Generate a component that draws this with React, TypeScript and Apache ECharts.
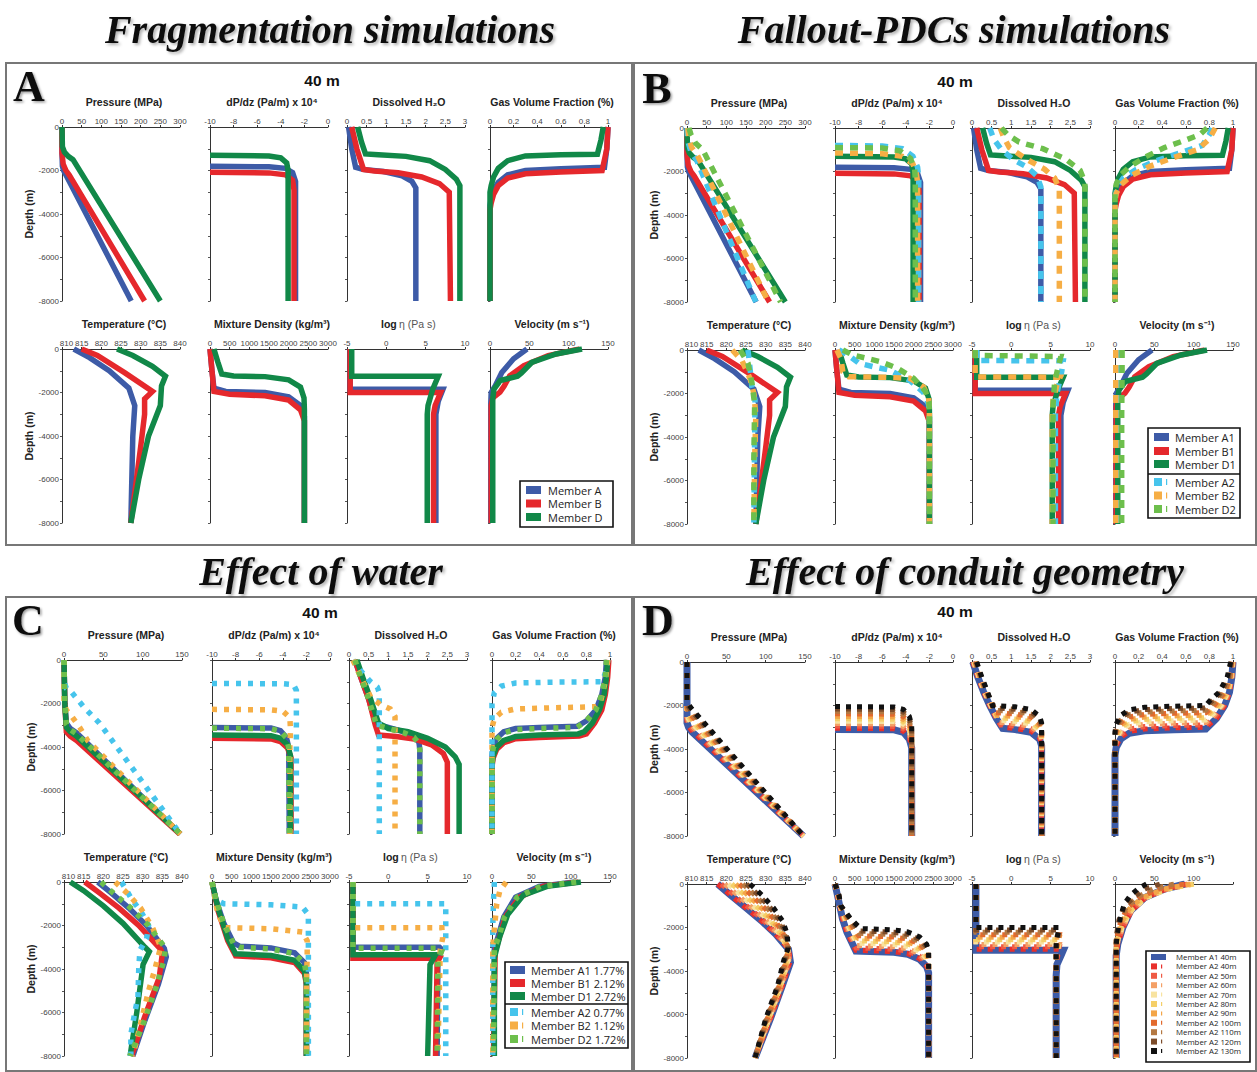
import React, { useEffect, useRef } from 'react';
import * as echarts from 'echarts';

// ================= Panel A (Fragmentation) & B solid members =================
const pressure_A1 = [[0,0],[0,-1200],[1,-1800],[4,-2000],[10,-2200],[176,-8000]];
const pressure_B1 = [[0,0],[0,-1200],[3,-1700],[10,-2000],[18,-2200],[210,-8000]];
const pressure_D1 = [[0,0],[1,-900],[6,-1150],[16,-1350],[28,-1500],[250,-8000]];
const dpdz_A1 = [[-10,-1800],[-5,-1830],[-3.6,-1900],[-3.0,-2100],[-2.75,-2500],[-2.75,-8000]];
const dpdz_B1 = [[-10,-2080],[-5,-2110],[-3.6,-2200],[-3.0,-2450],[-2.88,-2900],[-2.88,-8000]];
const dpdz_D1 = [[-10,-1300],[-5,-1330],[-4,-1420],[-3.5,-1650],[-3.38,-2000],[-3.38,-8000]];
const h2o_A1 = [[0.04,0],[0.12,-1000],[0.22,-1850],[0.4,-1950],[0.93,-2050],[1.4,-2250],[1.65,-2500],[1.75,-2800],[1.75,-8000]];
const h2o_B1 = [[0.12,0],[0.25,-1000],[0.42,-1950],[0.7,-2020],[1.3,-2100],[1.9,-2300],[2.35,-2600],[2.6,-3000],[2.63,-8000]];
const h2o_D1 = [[0.27,0],[0.37,-700],[0.47,-1240],[0.8,-1280],[1.5,-1350],[2.1,-1550],[2.5,-1950],[2.78,-2400],[2.87,-2700],[2.87,-8000]];
const gvf_A1 = [[1,0],[0.99,-1000],[0.97,-1850],[0.6,-1920],[0.3,-2000],[0.15,-2200],[0.07,-2550],[0.03,-2900],[0.01,-3300],[0,-3600],[0,-8000]];
const gvf_B1 = [[1,0],[0.99,-1000],[0.95,-2000],[0.6,-2070],[0.3,-2150],[0.15,-2350],[0.07,-2700],[0.03,-3100],[0.01,-3500],[0,-3800],[0,-8000]];
const gvf_D1 = [[0.96,0],[0.94,-600],[0.91,-1250],[0.6,-1280],[0.3,-1330],[0.15,-1550],[0.07,-1900],[0.03,-2300],[0.01,-2700],[0,-3000],[0,-8000]];
const temp_A1 = [[813,0],[817,-400],[822,-1000],[827,-1800],[828.5,-2600],[828,-4000],[827.5,-8000]];
const temp_B1 = [[815,0],[819,-300],[826,-1100],[833,-1950],[831,-2300],[831,-3000],[830,-4500],[827.5,-8000]];
const temp_D1 = [[824,0],[828,-300],[833,-800],[836.3,-1250],[835.3,-1700],[835,-2600],[832,-4000],[829.5,-6000],[827.5,-8000]];
const rho_A1 = [[0,0],[50,-1000],[100,-1800],[400,-1950],[1400,-2000],[2000,-2200],[2300,-2600],[2400,-3100],[2400,-8000]];
const rho_B1 = [[0,0],[50,-1000],[100,-1950],[500,-2080],[1400,-2150],[2000,-2350],[2300,-2800],[2400,-3300],[2400,-8000]];
const rho_D1 = [[100,0],[200,-600],[300,-1150],[600,-1240],[1400,-1270],[2000,-1420],[2300,-1750],[2390,-2250],[2400,-2800],[2400,-8000]];
const visc_A1 = [[-4.6,0],[-4.6,-1850],[7.2,-1850],[6.6,-2400],[6.3,-3000],[6.3,-8000]];
const visc_B1 = [[-4.6,0],[-4.6,-2000],[6.9,-2000],[6.2,-2600],[6.0,-3000],[6.0,-8000]];
const visc_D1 = [[-4.4,0],[-4.4,-1250],[6.6,-1250],[5.9,-1850],[5.3,-2600],[5.2,-3000],[5.2,-8000]];
const vel_A1 = [[47,0],[30,-450],[15,-1080],[6.6,-1700],[1.5,-2000],[1,-2500],[1,-8000]];
const vel_B1 = [[114,0],[74,-300],[43,-770],[25,-1240],[18,-1700],[12.7,-1980],[3.5,-2250],[1.5,-2600],[1.5,-8000]];
const vel_D1 = [[117,0],[84,-230],[53,-620],[40,-1100],[35,-1250],[13,-1450],[5,-1850],[3.5,-2300],[3.5,-8000]];

// ================= Panel B dashed members (A2, B2, D2) =================
const pressure_A2 = [[0,0],[2,-600],[10,-1100],[25,-1500],[175,-8000]];
const pressure_B2 = [[2,0],[5,-500],[12,-900],[25,-1200],[207,-8000]];
const pressure_D2 = [[5,0],[10,-300],[22,-700],[40,-1000],[238,-8000]];
const dpdz_A2 = [[-10,-800],[-6,-830],[-4.3,-950],[-3.4,-1300],[-3.0,-1800],[-2.9,-2300],[-2.9,-8000]];
const dpdz_B2 = [[-10,-1150],[-6,-1180],[-4.3,-1300],[-3.4,-1650],[-3.1,-2100],[-3.0,-2500],[-3.0,-8000]];
const dpdz_D2 = [[-10,-900],[-6,-920],[-4.5,-1050],[-3.6,-1400],[-3.25,-1900],[-3.2,-2300],[-3.2,-8000]];
const h2o_A2 = [[0.45,0],[0.55,-500],[0.75,-1000],[1.05,-1450],[1.4,-1800],[1.65,-2200],[1.75,-2700],[1.75,-8000]];
const h2o_B2 = [[0.72,0],[0.8,-400],[0.95,-900],[1.4,-1450],[1.85,-1900],[2.1,-2300],[2.22,-2800],[2.22,-8000]];
const h2o_D2 = [[0.75,0],[0.9,-300],[1.2,-650],[1.8,-950],[2.4,-1450],[2.75,-1950],[2.87,-2500],[2.87,-8000]];
const gvf_A2 = [[0.82,0],[0.8,-300],[0.74,-800],[0.55,-1150],[0.35,-1500],[0.18,-1900],[0.07,-2300],[0.02,-2700],[0,-3200],[0,-8000]];
const gvf_B2 = [[0.85,0],[0.8,-500],[0.7,-1000],[0.5,-1350],[0.3,-1750],[0.15,-2150],[0.05,-2600],[0.01,-3000],[0,-3400],[0,-8000]];
const gvf_D2 = [[0.78,0],[0.72,-300],[0.6,-550],[0.42,-900],[0.25,-1350],[0.12,-1800],[0.04,-2200],[0.01,-2600],[0,-3000],[0,-8000]];
const temp_A2 = [[825.5,0],[826,-800],[826.5,-1700],[827.3,-2300],[827.2,-4000],[827,-8000]];
const temp_B2 = [[821.5,0],[824,-500],[826,-1300],[827,-2000],[827.5,-3000],[827.2,-5000],[827,-8000]];
const temp_D2 = [[823.5,0],[825.5,-600],[826.5,-1500],[827.2,-2500],[827,-5000],[827,-8000]];
const rho_A2 = [[100,0],[350,-250],[600,-600],[1000,-780],[1400,-930],[1900,-1400],[2250,-1950],[2380,-2500],[2400,-3000],[2400,-8000]];
const rho_B2 = [[50,0],[150,-400],[200,-1000],[350,-1230],[1200,-1250],[1900,-1300],[2250,-1700],[2380,-2200],[2400,-2800],[2400,-8000]];
const rho_D2 = [[200,0],[450,-230],[800,-380],[1160,-540],[1600,-850],[2000,-1300],[2300,-1900],[2390,-2400],[2400,-3000],[2400,-8000]];
const visc_A2 = [[-4.4,0],[-4.4,-480],[0,-490],[6.6,-500],[6.4,-1000],[5.8,-2000],[5.6,-3000],[5.6,-8000]];
const visc_B2 = [[-4.6,0],[-4.6,-1240],[0,-1240],[6.2,-1250],[5.8,-1600],[5.3,-2300],[5.2,-3000],[5.2,-8000]];
const visc_D2 = [[-4.6,0],[-4.6,-250],[0,-270],[6.3,-300],[6.0,-700],[5.5,-1500],[5.3,-2500],[5.3,-8000]];
const vel_A2 = [[5,0],[4,-1000],[3,-2000],[3,-8000]];
const vel_B2 = [[1,0],[1,-8000]];
const vel_D2 = [[9,0],[9,-1000],[8.5,-3000],[8.5,-8000]];

// ================= Panel C (Effect of water) =================
const w_pressure_A1 = [[0,0],[1,-2000],[3,-2900],[8,-3150],[16,-3350],[148,-8000]];
const w_pressure_B1 = [[0,0],[1,-2000],[3,-3300],[8,-3500],[16,-3700],[147,-8000]];
const w_pressure_D1 = [[0,0],[1,-2000],[3,-3100],[8,-3300],[16,-3500],[148,-8000]];
const w_pressure_A2 = [[0,0],[0,-1000],[3,-1300],[10,-1500],[26,-2200],[45,-2900],[148,-8000]];
const w_pressure_B2 = [[0,0],[0,-2000],[3,-2300],[10,-2600],[20,-3100],[30,-3700],[148,-8000]];
const w_pressure_D2 = [[0,0],[1,-2000],[3,-2950],[8,-3200],[16,-3400],[148,-8000]];
const w_dpdz_A1 = [[-10,-3100],[-5,-3130],[-4.2,-3250],[-3.7,-3550],[-3.5,-4000],[-3.45,-8000]];
const w_dpdz_B1 = [[-10,-3600],[-5,-3630],[-4.2,-3750],[-3.6,-4050],[-3.3,-4500],[-3.3,-8000]];
const w_dpdz_D1 = [[-10,-3450],[-5,-3480],[-4.2,-3600],[-3.6,-3900],[-3.35,-4400],[-3.35,-8000]];
const w_dpdz_A2 = [[-10,-1080],[-4,-1090],[-3.1,-1130],[-2.85,-1400],[-2.85,-8000]];
const w_dpdz_B2 = [[-10,-2270],[-5,-2290],[-4,-2350],[-3.4,-2650],[-3.35,-3200],[-3.4,-4000],[-3.4,-8000]];
const w_dpdz_D2 = [[-10,-3130],[-5,-3160],[-4.2,-3280],[-3.7,-3580],[-3.5,-4030],[-3.45,-8000]];
const w_h2o_A1 = [[0.15,0],[0.3,-800],[0.5,-1800],[0.7,-2950],[1.0,-3100],[1.4,-3300],[1.65,-3500],[1.78,-3800],[1.8,-4100],[1.8,-8000]];
const w_h2o_B1 = [[0.15,0],[0.3,-800],[0.5,-1800],[0.67,-3000],[0.75,-3450],[1.2,-3520],[1.7,-3650],[2.1,-3900],[2.4,-4300],[2.5,-4700],[2.5,-8000]];
const w_h2o_D1 = [[0.2,0],[0.35,-800],[0.55,-1800],[0.75,-2900],[1.0,-3150],[1.5,-3300],[2.0,-3600],[2.45,-4000],[2.7,-4450],[2.8,-4800],[2.8,-8000]];
const w_h2o_A2 = [[0.1,0],[0.3,-500],[0.55,-1000],[0.72,-1250],[0.77,-1500],[0.77,-8000]];
const w_h2o_B2 = [[0.1,0],[0.3,-800],[0.55,-1700],[0.8,-2050],[1.05,-2250],[1.17,-2600],[1.17,-8000]];
const w_h2o_D2 = [[0.15,0],[0.3,-800],[0.5,-1800],[0.7,-3000],[1.0,-3150],[1.4,-3350],[1.65,-3550],[1.78,-3850],[1.8,-4150],[1.8,-8000]];
const w_gvf_A1 = [[0.97,0],[0.96,-800],[0.93,-1600],[0.88,-2300],[0.8,-2800],[0.72,-3050],[0.4,-3100],[0.2,-3150],[0.1,-3300],[0.04,-3600],[0.01,-4000],[0,-4400],[0,-8000]];
const w_gvf_B1 = [[0.99,0],[0.98,-800],[0.96,-1600],[0.93,-2300],[0.87,-2900],[0.8,-3400],[0.74,-3500],[0.4,-3560],[0.2,-3620],[0.1,-3800],[0.04,-4100],[0.01,-4500],[0,-4900],[0,-8000]];
const w_gvf_D1 = [[0.98,0],[0.97,-800],[0.95,-1600],[0.91,-2300],[0.85,-2900],[0.78,-3300],[0.73,-3400],[0.4,-3450],[0.2,-3520],[0.1,-3700],[0.04,-4000],[0.01,-4400],[0,-4800],[0,-8000]];
const w_gvf_A2 = [[0.98,0],[0.97,-500],[0.93,-1000],[0.5,-1020],[0.2,-1060],[0.08,-1200],[0.02,-1500],[0,-2000],[0,-8000]];
const w_gvf_B2 = [[0.98,0],[0.96,-1000],[0.92,-1900],[0.88,-2150],[0.5,-2200],[0.2,-2250],[0.08,-2400],[0.02,-2700],[0,-3100],[0,-8000]];
const w_gvf_D2 = [[0.97,0],[0.96,-800],[0.93,-1600],[0.88,-2300],[0.8,-2800],[0.72,-3100],[0.4,-3150],[0.2,-3200],[0.1,-3350],[0.04,-3650],[0.01,-4050],[0,-4450],[0,-8000]];
const w_temp_A1 = [[818.6,0],[822,-500],[826.5,-1200],[831,-2000],[835.5,-3050],[836,-3450],[834,-4700],[830.5,-6400],[827.5,-8000]];
const w_temp_B1 = [[815.3,0],[819,-500],[824,-1200],[829,-2000],[834.6,-3100],[835,-3300],[834.2,-4400],[830.5,-6200],[827.2,-8000]];
const w_temp_D1 = [[811.6,0],[815,-400],[820,-1100],[825,-1900],[830.6,-3000],[831.7,-3200],[830.1,-3800],[828.5,-6000],[826.8,-8000]];
const w_temp_A2 = [[824.6,0],[827.2,-780],[829.7,-1400],[831.5,-2000],[831,-2600],[829.3,-3140],[829,-4000],[828.8,-5300],[828,-6000],[827,-7000],[827,-8000]];
const w_temp_B2 = [[823,0],[826,-500],[829.5,-1200],[832.5,-2100],[834.6,-2980],[833,-4080],[831.5,-5000],[829.5,-6500],[827.5,-8000]];
const w_temp_D2 = [[819.4,0],[822.5,-500],[827,-1200],[831.5,-2000],[835.8,-3050],[835.4,-3600],[833.5,-4800],[830.2,-6500],[826.8,-8000]];
const w_rho_A1 = [[0,0],[100,-800],[300,-1900],[550,-2800],[700,-2950],[1500,-3030],[2100,-3250],[2350,-3700],[2400,-4200],[2400,-8000]];
const w_rho_B1 = [[0,0],[150,-1300],[400,-2700],[600,-3400],[1500,-3480],[2100,-3700],[2350,-4200],[2400,-4700],[2400,-8000]];
const w_rho_D1 = [[0,0],[150,-1200],[400,-2600],[600,-3300],[1500,-3380],[2100,-3600],[2350,-4100],[2400,-4600],[2400,-8000]];
const w_rho_A2 = [[0,0],[80,-800],[300,-1000],[1500,-1050],[2300,-1150],[2450,-1500],[2450,-8000]];
const w_rho_B2 = [[0,0],[150,-1500],[350,-2100],[1500,-2150],[2300,-2300],[2420,-2700],[2420,-3500],[2400,-4500],[2400,-8000]];
const w_rho_D2 = [[0,0],[100,-800],[300,-1900],[550,-2850],[700,-3000],[1500,-3080],[2100,-3300],[2350,-3750],[2400,-4250],[2400,-8000]];
const w_visc_A1 = [[-4.5,0],[-4.5,-3000],[6.5,-3000],[6.8,-3100],[6.3,-3600],[6.2,-8000]];
const w_visc_B1 = [[-4.5,0],[-4.5,-3500],[6.5,-3500],[6.2,-3700],[6.0,-8000]];
const w_visc_D1 = [[-4.5,0],[-4.5,-3350],[6.0,-3350],[5.3,-3800],[5.0,-8000]];
const w_visc_A2 = [[-4.5,0],[-4.5,-1000],[7.3,-1000],[7.3,-8000]];
const w_visc_B2 = [[-4.5,0],[-4.5,-2100],[6.8,-2100],[6.9,-2600],[6.6,-3100],[6.3,-8000]];
const w_visc_D2 = [[-4.5,0],[-4.5,-3050],[6.5,-3050],[6.8,-3150],[6.3,-3650],[6.2,-8000]];
const w_vel_A1 = [[105,0],[60,-200],[30,-700],[15,-1600],[7,-2600],[3,-3000],[2,-8000]];
const w_vel_B1 = [[110,0],[65,-200],[35,-700],[17,-1600],[9,-2600],[4,-3200],[2,-8000]];
const w_vel_D1 = [[113,0],[70,-200],[40,-600],[20,-1500],[10,-2500],[5,-3200],[3,-3500],[3,-8000]];
const w_vel_A2 = [[3,0],[2,-800],[1,-2000],[1,-8000]];
const w_vel_B2 = [[18,0],[10,-400],[6,-1000],[4,-1800],[2,-2500],[1,-3000],[1,-8000]];
const w_vel_D2 = [[107,0],[62,-200],[32,-700],[16,-1600],[8,-2600],[3,-3000],[2,-8000]];

// ================= Panel D (Effect of conduit geometry) =================
// index 0: Member A1 40m (solid); 1..10: Member A2 40m ... 130m (dashed)
const GEOM_LABELS = ['Member A1 40m','Member A2 40m','Member A2 50m','Member A2 60m','Member A2 70m','Member A2 80m','Member A2 90m','Member A2 100m','Member A2 110m','Member A2 120m','Member A2 130m'];
const g_pressure = [
  [[0,0],[0,-2800],[2,-3000],[6,-3200],[148,-8000]],
  [[0,0],[0,-2750],[2,-2950],[6,-3150],[148,-8000]],
  [[0,0],[0,-2640],[2,-2840],[6,-3040],[148,-8000]],
  [[0,0],[0,-2530],[2,-2730],[6,-2930],[148,-8000]],
  [[0,0],[0,-2420],[2,-2620],[6,-2820],[148,-8000]],
  [[0,0],[0,-2310],[2,-2510],[6,-2710],[148,-8000]],
  [[0,0],[0,-2190],[2,-2390],[6,-2590],[148,-8000]],
  [[0,0],[0,-2080],[2,-2280],[6,-2480],[148,-8000]],
  [[0,0],[0,-1970],[2,-2170],[6,-2370],[148,-8000]],
  [[0,0],[0,-1860],[2,-2060],[6,-2260],[148,-8000]],
  [[0,0],[0,-1750],[2,-1950],[6,-2150],[148,-8000]],
];
const g_dpdz = [
  [[-10,-3100],[-5,-3120],[-4.2,-3230],[-3.7,-3550],[-3.5,-3950],[-3.5,-8000]],
  [[-10,-3050],[-5,-3070],[-4.2,-3180],[-3.7,-3500],[-3.5,-3900],[-3.5,-8000]],
  [[-10,-2940],[-5,-2960],[-4.2,-3070],[-3.7,-3390],[-3.5,-3790],[-3.5,-8000]],
  [[-10,-2830],[-5,-2850],[-4.2,-2960],[-3.7,-3280],[-3.5,-3680],[-3.5,-8000]],
  [[-10,-2720],[-5,-2740],[-4.2,-2850],[-3.7,-3170],[-3.5,-3570],[-3.5,-8000]],
  [[-10,-2610],[-5,-2630],[-4.2,-2740],[-3.7,-3060],[-3.5,-3460],[-3.5,-8000]],
  [[-10,-2500],[-5,-2520],[-4.2,-2630],[-3.7,-2950],[-3.5,-3350],[-3.5,-8000]],
  [[-10,-2380],[-5,-2400],[-4.2,-2510],[-3.7,-2830],[-3.5,-3230],[-3.5,-8000]],
  [[-10,-2270],[-5,-2290],[-4.2,-2400],[-3.7,-2720],[-3.5,-3120],[-3.5,-8000]],
  [[-10,-2160],[-5,-2180],[-4.2,-2290],[-3.7,-2610],[-3.5,-3010],[-3.5,-8000]],
  [[-10,-2050],[-5,-2070],[-4.2,-2180],[-3.7,-2500],[-3.5,-2900],[-3.5,-8000]],
];
const g_h2o = [
  [[0.02,0],[0.15,-700],[0.3,-1400],[0.45,-2000],[0.62,-2600],[0.78,-3050],[1.1,-3110],[1.5,-3230],[1.72,-3550],[1.77,-3850],[1.77,-8000]],
  [[0.02,0],[0.15,-700],[0.3,-1400],[0.45,-2000],[0.62,-2600],[0.77,-3000],[1.1,-3060],[1.5,-3180],[1.72,-3500],[1.77,-3800],[1.77,-8000]],
  [[0.03,0],[0.16,-700],[0.31,-1400],[0.46,-2000],[0.63,-2600],[0.73,-2890],[1.1,-2950],[1.5,-3070],[1.72,-3390],[1.77,-3690],[1.77,-8000]],
  [[0.04,0],[0.17,-700],[0.32,-1400],[0.47,-2000],[0.64,-2600],[0.7,-2780],[1.1,-2840],[1.5,-2960],[1.72,-3280],[1.77,-3580],[1.77,-8000]],
  [[0.05,0],[0.18,-700],[0.33,-1400],[0.48,-2000],[0.66,-2600],[0.68,-2670],[1.1,-2730],[1.5,-2850],[1.72,-3170],[1.77,-3470],[1.77,-8000]],
  [[0.065,0],[0.195,-700],[0.345,-1400],[0.495,-2000],[0.65,-2560],[1.1,-2620],[1.5,-2740],[1.72,-3060],[1.77,-3360],[1.77,-8000]],
  [[0.075,0],[0.205,-700],[0.355,-1400],[0.505,-2000],[0.64,-2450],[1.1,-2510],[1.5,-2630],[1.72,-2950],[1.77,-3250],[1.77,-8000]],
  [[0.085,0],[0.215,-700],[0.365,-1400],[0.515,-2000],[0.6,-2330],[1.1,-2390],[1.5,-2510],[1.72,-2830],[1.77,-3130],[1.77,-8000]],
  [[0.095,0],[0.225,-700],[0.375,-1400],[0.525,-2000],[0.58,-2220],[1.1,-2280],[1.5,-2400],[1.72,-2720],[1.77,-3020],[1.77,-8000]],
  [[0.11,0],[0.24,-700],[0.39,-1400],[0.54,-2000],[0.56,-2110],[1.1,-2170],[1.5,-2290],[1.72,-2610],[1.77,-2910],[1.77,-8000]],
  [[0.12,0],[0.25,-700],[0.4,-1400],[0.52,-2000],[1.1,-2060],[1.5,-2180],[1.72,-2500],[1.77,-2800],[1.77,-8000]],
];
const g_gvf = [
  [[1,0],[0.99,-700],[0.97,-1400],[0.93,-2000],[0.86,-2600],[0.77,-3080],[0.5,-3110],[0.25,-3160],[0.12,-3280],[0.05,-3530],[0.01,-3930],[0,-4280],[0,-8000]],
  [[1,0],[0.99,-700],[0.97,-1400],[0.93,-2000],[0.86,-2600],[0.77,-3000],[0.5,-3030],[0.25,-3080],[0.12,-3200],[0.05,-3450],[0.01,-3850],[0,-4200],[0,-8000]],
  [[1,0],[0.99,-700],[0.97,-1400],[0.92,-2000],[0.85,-2500],[0.77,-2890],[0.5,-2920],[0.25,-2970],[0.12,-3090],[0.05,-3340],[0.01,-3740],[0,-4090],[0,-8000]],
  [[1,0],[0.99,-700],[0.96,-1400],[0.91,-2000],[0.84,-2450],[0.77,-2780],[0.5,-2810],[0.25,-2860],[0.12,-2980],[0.05,-3230],[0.01,-3630],[0,-3980],[0,-8000]],
  [[0.995,0],[0.985,-700],[0.955,-1400],[0.9,-2000],[0.83,-2400],[0.77,-2670],[0.5,-2700],[0.25,-2750],[0.12,-2870],[0.05,-3120],[0.01,-3520],[0,-3870],[0,-8000]],
  [[0.995,0],[0.98,-700],[0.95,-1400],[0.88,-2000],[0.82,-2300],[0.77,-2560],[0.5,-2590],[0.25,-2640],[0.12,-2760],[0.05,-3010],[0.01,-3410],[0,-3760],[0,-8000]],
  [[0.99,0],[0.98,-700],[0.94,-1400],[0.86,-2000],[0.77,-2450],[0.5,-2480],[0.25,-2530],[0.12,-2650],[0.05,-2900],[0.01,-3300],[0,-3650],[0,-8000]],
  [[0.99,0],[0.975,-700],[0.93,-1400],[0.84,-2000],[0.77,-2330],[0.5,-2360],[0.25,-2410],[0.12,-2530],[0.05,-2780],[0.01,-3180],[0,-3530],[0,-8000]],
  [[0.985,0],[0.97,-700],[0.92,-1400],[0.83,-1900],[0.77,-2220],[0.5,-2250],[0.25,-2300],[0.12,-2420],[0.05,-2670],[0.01,-3070],[0,-3420],[0,-8000]],
  [[0.985,0],[0.96,-700],[0.9,-1400],[0.8,-1900],[0.77,-2110],[0.5,-2140],[0.25,-2190],[0.12,-2310],[0.05,-2560],[0.01,-2960],[0,-3310],[0,-8000]],
  [[0.98,0],[0.95,-700],[0.88,-1400],[0.8,-1800],[0.77,-2000],[0.5,-2030],[0.25,-2080],[0.12,-2200],[0.05,-2450],[0.01,-2850],[0,-3200],[0,-8000]],
];
const g_temp = [
  [[817.8,0],[821,-500],[825,-1100],[829,-1700],[832.5,-2300],[835.8,-3000],[836.3,-3600],[834.2,-4700],[831.2,-6200],[827.3,-8000]],
  [[817.8,0],[821,-500],[825,-1100],[829,-1700],[832.5,-2300],[835.7,-2950],[836.3,-3500],[834.2,-4700],[831.2,-6200],[827.3,-8000]],
  [[818.7,0],[821.9,-500],[825.8,-1100],[829.6,-1700],[832.8,-2300],[835.7,-2950],[836.1,-3500],[834.1,-4700],[831.1,-6200],[827.3,-8000]],
  [[819.6,0],[822.8,-500],[826.6,-1100],[830.2,-1700],[833.2,-2300],[835.7,-2950],[835.9,-3500],[833.9,-4700],[830.9,-6200],[827.3,-8000]],
  [[820.5,0],[823.7,-500],[827.3,-1100],[830.8,-1700],[833.5,-2300],[835.7,-2950],[835.7,-3500],[833.8,-4700],[830.8,-6200],[827.3,-8000]],
  [[821.4,0],[824.6,-500],[828.1,-1100],[831.4,-1700],[833.8,-2300],[835.7,-2950],[835.5,-3500],[833.7,-4700],[830.7,-6200],[827.3,-8000]],
  [[822.4,0],[825.4,-500],[828.9,-1100],[831.9,-1700],[834.2,-2300],[835.7,-2950],[835.4,-3500],[833.5,-4700],[830.5,-6200],[827.3,-8000]],
  [[823.3,0],[826.3,-500],[829.7,-1100],[832.5,-1700],[834.5,-2300],[835.7,-2950],[835.2,-3500],[833.4,-4700],[830.4,-6200],[827.3,-8000]],
  [[824.2,0],[827.2,-500],[830.4,-1100],[833.1,-1700],[834.8,-2300],[835.7,-2950],[835,-3500],[833.3,-4700],[830.3,-6200],[827.3,-8000]],
  [[825.1,0],[828.1,-500],[831.2,-1100],[833.7,-1700],[835.2,-2300],[835.7,-2950],[834.8,-3500],[833.1,-4700],[830.1,-6200],[827.3,-8000]],
  [[826,0],[829,-500],[832,-1100],[834.3,-1700],[835.5,-2300],[835.7,-2950],[834.6,-3500],[833,-4700],[830,-6200],[827.3,-8000]],
];
const g_rho = [
  [[0,0],[60,-500],[120,-1000],[190,-1600],[300,-2200],[530,-3080],[1100,-3110],[1500,-3140],[1850,-3230],[2150,-3460],[2330,-3800],[2380,-4080],[2380,-8000]],
  [[0,0],[60,-500],[120,-1000],[190,-1600],[300,-2200],[530,-3050],[1100,-3080],[1500,-3110],[1850,-3200],[2150,-3430],[2330,-3770],[2380,-4050],[2380,-8000]],
  [[0,0],[65,-500],[123,-1000],[213,-1600],[330,-2200],[540,-2940],[1100,-2970],[1500,-3000],[1850,-3090],[2150,-3320],[2330,-3660],[2380,-3940],[2380,-8000]],
  [[0,0],[70,-500],[126,-1000],[236,-1600],[360,-2200],[550,-2830],[1100,-2860],[1500,-2890],[1850,-2980],[2150,-3210],[2330,-3550],[2380,-3830],[2380,-8000]],
  [[0,0],[75,-500],[130,-1000],[260,-1600],[400,-2200],[560,-2720],[1100,-2750],[1500,-2780],[1850,-2870],[2150,-3100],[2330,-3440],[2380,-3720],[2380,-8000]],
  [[0,0],[80,-500],[133,-1000],[283,-1600],[440,-2200],[575,-2610],[1100,-2640],[1500,-2670],[1850,-2760],[2150,-2990],[2330,-3330],[2380,-3610],[2380,-8000]],
  [[0,0],[85,-500],[136,-1000],[306,-1600],[480,-2200],[590,-2500],[1100,-2530],[1500,-2560],[1850,-2650],[2150,-2880],[2330,-3220],[2380,-3500],[2380,-8000]],
  [[0,0],[90,-500],[140,-1000],[330,-1600],[530,-2200],[605,-2380],[1100,-2410],[1500,-2440],[1850,-2530],[2150,-2760],[2330,-3100],[2380,-3380],[2380,-8000]],
  [[0,0],[93,-500],[143,-1000],[353,-1600],[580,-2200],[615,-2270],[1100,-2300],[1500,-2330],[1850,-2420],[2150,-2650],[2330,-2990],[2380,-3270],[2380,-8000]],
  [[0,0],[96,-500],[146,-1000],[376,-1600],[630,-2160],[1100,-2190],[1500,-2220],[1850,-2310],[2150,-2540],[2330,-2880],[2380,-3160],[2380,-8000]],
  [[0,0],[100,-500],[150,-1000],[400,-1600],[650,-2050],[1100,-2080],[1500,-2110],[1850,-2200],[2150,-2430],[2330,-2770],[2380,-3050],[2380,-8000]],
];
const g_visc = [
  [[-4.5,0],[-4.5,-3050],[6.6,-3050],[6.3,-3300],[5.8,-3700],[5.7,-4200],[5.7,-8000]],
  [[-4.5,0],[-4.5,-3000],[6.1,-3000],[5.9,-3300],[5.7,-3700],[5.7,-8000]],
  [[-4.5,0],[-4.5,-2890],[6.1,-2890],[5.9,-3190],[5.7,-3590],[5.7,-8000]],
  [[-4.5,0],[-4.5,-2780],[6.1,-2780],[5.9,-3080],[5.7,-3480],[5.7,-8000]],
  [[-4.5,0],[-4.5,-2670],[6.1,-2670],[5.9,-2970],[5.7,-3370],[5.7,-8000]],
  [[-4.5,0],[-4.5,-2560],[6.1,-2560],[5.9,-2860],[5.7,-3260],[5.7,-8000]],
  [[-4.5,0],[-4.5,-2450],[6.1,-2450],[5.9,-2750],[5.7,-3150],[5.7,-8000]],
  [[-4.5,0],[-4.5,-2330],[6.1,-2330],[5.9,-2630],[5.7,-3030],[5.7,-8000]],
  [[-4.5,0],[-4.5,-2220],[6.1,-2220],[5.9,-2520],[5.7,-2920],[5.7,-8000]],
  [[-4.5,0],[-4.5,-2110],[6.1,-2110],[5.9,-2410],[5.7,-2810],[5.7,-8000]],
  [[-4.5,0],[-4.5,-2000],[6.1,-2000],[5.9,-2300],[5.7,-2700],[5.7,-8000]],
];
const g_vel = [
  [[89,0],[63,-230],[38,-620],[20,-1230],[10,-2000],[3.5,-2770],[1.5,-3300],[1.5,-8000]],
  [[92,0],[65,-230],[39,-620],[21,-1230],[10,-2000],[3.5,-2770],[1.5,-3300],[1.5,-8000]],
  [[95,0],[66,-230],[39,-620],[21,-1230],[10,-2000],[3.5,-2700],[1.5,-3200],[1.5,-8000]],
  [[98,0],[67,-230],[40,-620],[21,-1230],[10,-1950],[3.5,-2650],[1.5,-3100],[1.5,-8000]],
  [[100,0],[68,-230],[40,-620],[21,-1200],[10,-1900],[3.5,-2600],[1.5,-3000],[1.5,-8000]],
  [[100,0],[66,-230],[38,-620],[20,-1200],[9,-1850],[3.5,-2500],[1.5,-2900],[1.5,-8000]],
  [[96,0],[62,-230],[35,-620],[18,-1150],[8,-1800],[3,-2400],[1.5,-2800],[1.5,-8000]],
  [[88,0],[56,-230],[31,-620],[16,-1100],[7,-1750],[3,-2350],[1.5,-2700],[1.5,-8000]],
  [[75,0],[48,-230],[27,-620],[14,-1100],[6,-1700],[2.5,-2300],[1.5,-2600],[1.5,-8000]],
  [[57,0],[38,-230],[23,-620],[12,-1050],[5,-1650],[2.5,-2200],[1.5,-2500],[1.5,-8000]],
  [[40,0],[30,-200],[20,-500],[12,-900],[7,-1500],[3,-2300],[1.5,-2800],[1.5,-8000]],
];

// ================= Axes / labels =================
const TITLES = ['Pressure (MPa)','dP/dz (Pa/m) x 10\u2074','Dissolved H\u2082O','Gas Volume Fraction (%)','Temperature (\u00b0C)','Mixture Density (kg/m\u00b3)','log \u03b7 (Pa s)','Velocity (m s\u207b\u00b9)'];
const X_RANGES = [[0,300,50],[-10,0,2],[0,3,0.5],[0,1,0.2],[810,840,5],[0,3000,500],[-5,10,5],[0,150,50]];
const DEPTH_TICKS = [-8000, 0, 2000];

// ================= Styles =================
const BLUE = '#3d5ba7', RED = '#e5282c', GREEN = '#118848';
const CYAN = '#46c4ec', ORANGE = '#f6ae45', LGREEN = '#6dbf4c';
const GEOM_COLORS = ['#3d5ba7','#e8302c','#ef5a44','#f4a066','#f8e3a0','#f5cf68','#f3a548','#e26a2e','#b47842','#7c4c2a','#111111'];
const SANS = '"Liberation Sans Narrow", "Liberation Sans", Arial, sans-serif';
const SANS2 = '"Liberation Sans", Arial, sans-serif';
const LEG = '"Open Sans", "Liberation Sans", sans-serif';
const W = 1257, H = 1072;
const COL_OFF = [56, 204, 341, 484];
const ROW_OFF = [64, 286];
const PW = 118, PH = 174;

type Spec = { data: number[][]; color: string; width: number; dash?: number[] };
const sol = (data: number[][], color: string, width = 5.5): Spec => ({ data, color, width });
const dsh = (data: number[][], color: string, dash: number[], width = 5.5): Spec => ({ data, color, width, dash });

function buildOption() {
  const grid: any[] = [], xAxis: any[] = [], yAxis: any[] = [], series: any[] = [], graphic: any[] = [];

  const txt = (text: string, x: number, y: number, style: any) =>
    graphic.push({ type: 'text', x, y, silent: true, style: { text, align: 'center', verticalAlign: 'middle', fill: '#1a1a1a', ...style } });

  function addPanel(gx: number, gy: number, vars: Spec[][], pMax: number, hideVel150: boolean) {
    vars.forEach((list, vi) => {
      const row = vi < 4 ? 0 : 1, col = vi % 4;
      const gi = grid.length;
      const left = gx + COL_OFF[col], top = gy + ROW_OFF[row];
      grid.push({ left, top, width: PW, height: PH, show: false, containLabel: false });
      const r = vi === 0 ? [0, pMax, 50] : X_RANGES[vi];
      xAxis.push({
        type: 'value', gridIndex: gi, position: 'top', min: r[0], max: r[1], interval: r[2],
        axisLine: { show: true, onZero: false, lineStyle: { color: '#333', width: 1 } },
        axisTick: { show: true, length: 2, lineStyle: { color: '#333' } },
        splitLine: { show: false },
        axisLabel: {
          fontSize: 8, color: '#444', margin: 2, fontFamily: SANS,
          showMinLabel: true, showMaxLabel: true, hideOverlap: false,
          formatter: (v: number) => {
            if (hideVel150 && vi === 7 && v === 150) return '';
            if (vi === 4 && v === 810) return '{m|810}';
            return String(v);
          },
          rich: { m: { padding: [0, 0, 0, 9], fontSize: 8, color: '#444', fontFamily: SANS } },
        },
      });
      yAxis.push({
        type: 'value', gridIndex: gi, min: DEPTH_TICKS[0], max: DEPTH_TICKS[1], interval: DEPTH_TICKS[2],
        axisLine: { show: true, onZero: false, lineStyle: { color: '#333', width: 1 } },
        axisTick: { show: true, length: 2, lineStyle: { color: '#555' } },
        minorTick: { show: true, splitNumber: 2, length: 2, lineStyle: { color: '#555' } },
        splitLine: { show: false },
        axisLabel: { show: col === 0, fontSize: 8, color: '#444', margin: 3, fontFamily: SANS, formatter: (v: number) => String(v) },
        name: col === 0 ? 'Depth (m)' : '', nameLocation: 'middle', nameGap: 27, nameRotate: 90,
        nameTextStyle: { fontSize: 10.5, fontWeight: 'bold', color: '#222', fontFamily: SANS2 },
      });
      list.forEach((s) => {
        series.push({
          type: 'line', xAxisIndex: gi, yAxisIndex: gi, data: s.data, symbol: 'none', showSymbol: false,
          silent: true, clip: true, animation: false,
          lineStyle: { color: s.color, width: s.width, type: s.dash ? s.dash : 'solid', cap: 'butt', join: 'miter' },
        });
      });
      const cx = left + PW / 2 + 3, cy = top - 25;
      if (vi === 6) {
        graphic.push({ type: 'text', x: cx - 28, y: cy, silent: true, style: { text: 'log', align: 'left', verticalAlign: 'middle', fill: '#222', fontSize: 10.5, fontWeight: 'bold', fontFamily: SANS } });
        graphic.push({ type: 'text', x: cx - 10, y: cy, silent: true, style: { text: '\u03b7 (Pa s)', align: 'left', verticalAlign: 'middle', fill: '#555', fontSize: 10.5, fontFamily: SANS } });
      } else {
        txt(TITLES[vi], cx, cy, { fontSize: 10.5, fontWeight: 'bold', fontFamily: SANS, fill: '#222' });
      }
    });
  }

  function legendBox(x: number, y: number, w: number, h: number, items: any[], divider: number | null, mx: number, tx: number, fs: number, mw: number, mh: number) {
    graphic.push({ type: 'rect', silent: true, shape: { x, y, width: w, height: h }, style: { fill: '#fff', stroke: '#111', lineWidth: 1.6 } });
    if (divider !== null) graphic.push({ type: 'line', silent: true, shape: { x1: x, y1: divider, x2: x + w, y2: divider }, style: { stroke: '#111', lineWidth: 1.4 } });
    items.forEach((it) => {
      if (it.dashed) {
        graphic.push({ type: 'rect', silent: true, shape: { x: mx, y: it.y - mh / 2, width: mh, height: mh }, style: { fill: it.color } });
        graphic.push({ type: 'rect', silent: true, shape: { x: mx + mh + 4, y: it.y - mh / 2 + 1, width: 1.2, height: mh - 2 }, style: { fill: it.color } });
      } else {
        graphic.push({ type: 'rect', silent: true, shape: { x: mx, y: it.y - mh / 2, width: mw, height: mh }, style: { fill: it.color } });
      }
      graphic.push({ type: 'text', x: tx, y: it.y, silent: true, style: { text: it.label, align: 'left', verticalAlign: 'middle', fill: '#222', fontSize: fs, fontFamily: LEG } });
    });
  }

  // panel frames
  const frames = [[6, 63, 626, 482], [634, 63, 622, 482], [6, 597, 626, 474], [634, 597, 622, 474]];
  frames.forEach((f) => graphic.push({ type: 'rect', silent: true, shape: { x: f[0], y: f[1], width: f[2], height: f[3] }, style: { fill: 'none', stroke: '#777', lineWidth: 2 } }));

  // headings
  const head = { fontSize: 40, fontWeight: 'bold', fontStyle: 'italic', fontFamily: '"Liberation Serif", "DejaVu Serif", serif', fill: '#111', textShadowColor: 'rgba(0,0,0,0.3)', textShadowBlur: 3, textShadowOffsetX: 2, textShadowOffsetY: 2 };
  txt('Fragmentation simulations', 330, 29, head);
  txt('Fallout-PDCs simulations', 954, 29, head);
  txt('Effect of water', 321, 571, head);
  txt('Effect of conduit geometry', 965, 571, head);

  // letters and "40 m"
  const letter = { fontSize: 44, fontWeight: 'bold', fontFamily: '"Liberation Serif", serif', fill: '#111', textShadowColor: 'rgba(0,0,0,0.4)', textShadowBlur: 2, textShadowOffsetX: 1.5, textShadowOffsetY: 1.5 };
  txt('A', 29, 86, letter);
  txt('B', 657, 88, letter);
  txt('C', 28, 620, letter);
  txt('D', 658, 620, letter);
  const fm = { fontSize: 15.5, fontWeight: 'bold', fontFamily: SANS2, fill: '#111' };
  txt('40 m', 322, 80, fm);
  txt('40 m', 955, 81, fm);
  txt('40 m', 320, 612, fm);
  txt('40 m', 955, 611, fm);

  // ---- Panel A ----
  addPanel(6, 63, [
    [sol(pressure_A1, BLUE), sol(pressure_B1, RED), sol(pressure_D1, GREEN)],
    [sol(dpdz_A1, BLUE), sol(dpdz_B1, RED), sol(dpdz_D1, GREEN)],
    [sol(h2o_A1, BLUE), sol(h2o_B1, RED), sol(h2o_D1, GREEN)],
    [sol(gvf_A1, BLUE), sol(gvf_B1, RED), sol(gvf_D1, GREEN)],
    [sol(temp_A1, BLUE), sol(temp_B1, RED), sol(temp_D1, GREEN)],
    [sol(rho_A1, BLUE), sol(rho_B1, RED), sol(rho_D1, GREEN)],
    [sol(visc_A1, BLUE), sol(visc_B1, RED), sol(visc_D1, GREEN)],
    [sol(vel_A1, BLUE), sol(vel_B1, RED), sol(vel_D1, GREEN)],
  ], 300, false);

  // ---- Panel B ----
  const bd = [8, 7];
  addPanel(631, 64, [
    [sol(pressure_A1, BLUE), sol(pressure_B1, RED), sol(pressure_D1, GREEN), dsh(pressure_A2, CYAN, bd), dsh(pressure_B2, ORANGE, bd), dsh(pressure_D2, LGREEN, bd)],
    [sol(dpdz_A1, BLUE), sol(dpdz_B1, RED), sol(dpdz_D1, GREEN), dsh(dpdz_A2, CYAN, bd), dsh(dpdz_B2, ORANGE, bd), dsh(dpdz_D2, LGREEN, bd)],
    [sol(h2o_A1, BLUE), sol(h2o_B1, RED), sol(h2o_D1, GREEN), dsh(h2o_A2, CYAN, bd), dsh(h2o_B2, ORANGE, bd), dsh(h2o_D2, LGREEN, bd)],
    [sol(gvf_A1, BLUE), sol(gvf_B1, RED), sol(gvf_D1, GREEN), dsh(gvf_A2, CYAN, bd), dsh(gvf_B2, ORANGE, bd), dsh(gvf_D2, LGREEN, bd)],
    [sol(temp_A1, BLUE), sol(temp_B1, RED), sol(temp_D1, GREEN), dsh(temp_A2, CYAN, bd), dsh(temp_B2, ORANGE, bd), dsh(temp_D2, LGREEN, bd)],
    [sol(rho_A1, BLUE), sol(rho_B1, RED), sol(rho_D1, GREEN), dsh(rho_A2, CYAN, bd), dsh(rho_B2, ORANGE, bd), dsh(rho_D2, LGREEN, bd)],
    [sol(visc_A1, BLUE), sol(visc_B1, RED), sol(visc_D1, GREEN), dsh(visc_A2, CYAN, bd), dsh(visc_B2, ORANGE, bd), dsh(visc_D2, LGREEN, bd)],
    [sol(vel_A1, BLUE), sol(vel_B1, RED), sol(vel_D1, GREEN), dsh(vel_A2, CYAN, bd), dsh(vel_B2, ORANGE, bd), dsh(vel_D2, LGREEN, bd)],
  ], 300, false);

  // ---- Panel C ----
  const cd = [5, 7];
  addPanel(8, 596, [
    [sol(w_pressure_A1, BLUE), sol(w_pressure_B1, RED), sol(w_pressure_D1, GREEN), dsh(w_pressure_A2, CYAN, cd), dsh(w_pressure_B2, ORANGE, cd), dsh(w_pressure_D2, LGREEN, cd)],
    [sol(w_dpdz_A1, BLUE), sol(w_dpdz_B1, RED), sol(w_dpdz_D1, GREEN), dsh(w_dpdz_A2, CYAN, cd), dsh(w_dpdz_B2, ORANGE, cd), dsh(w_dpdz_D2, LGREEN, cd)],
    [sol(w_h2o_A1, BLUE), sol(w_h2o_B1, RED), sol(w_h2o_D1, GREEN), dsh(w_h2o_A2, CYAN, cd), dsh(w_h2o_B2, ORANGE, cd), dsh(w_h2o_D2, LGREEN, cd)],
    [sol(w_gvf_A1, BLUE), sol(w_gvf_B1, RED), sol(w_gvf_D1, GREEN), dsh(w_gvf_A2, CYAN, cd), dsh(w_gvf_B2, ORANGE, cd), dsh(w_gvf_D2, LGREEN, cd)],
    [sol(w_temp_A1, BLUE), sol(w_temp_B1, RED), sol(w_temp_D1, GREEN), dsh(w_temp_A2, CYAN, cd), dsh(w_temp_B2, ORANGE, cd), dsh(w_temp_D2, LGREEN, cd)],
    [sol(w_rho_A1, BLUE), sol(w_rho_B1, RED), sol(w_rho_D1, GREEN), dsh(w_rho_A2, CYAN, cd), dsh(w_rho_B2, ORANGE, cd), dsh(w_rho_D2, LGREEN, cd)],
    [sol(w_visc_A1, BLUE), sol(w_visc_B1, RED), sol(w_visc_D1, GREEN), dsh(w_visc_A2, CYAN, cd), dsh(w_visc_B2, ORANGE, cd), dsh(w_visc_D2, LGREEN, cd)],
    [sol(w_vel_A1, BLUE), sol(w_vel_B1, RED), sol(w_vel_D1, GREEN), dsh(w_vel_A2, CYAN, cd), dsh(w_vel_B2, ORANGE, cd), dsh(w_vel_D2, LGREEN, cd)],
  ], 150, false);

  // ---- Panel D ----
  const dd = [5, 6];
  const geom = (arr: number[][][]) => arr.map((d, i) => (i === 0 ? sol(d, GEOM_COLORS[0], 7) : dsh(d, GEOM_COLORS[i], dd, 5)));
  addPanel(631, 598, [geom(g_pressure), geom(g_dpdz), geom(g_h2o), geom(g_gvf), geom(g_temp), geom(g_rho), geom(g_visc), geom(g_vel)], 150, true);

  // ---- Legends ----
  legendBox(520, 481, 93, 46, [
    { label: 'Member A', color: BLUE, y: 490 },
    { label: 'Member B', color: RED, y: 503.5 },
    { label: 'Member D', color: GREEN, y: 517 },
  ], null, 526, 548, 11, 15, 8);
  legendBox(1148, 428, 92, 90, [
    { label: 'Member A1', color: BLUE, y: 437 },
    { label: 'Member B1', color: RED, y: 451 },
    { label: 'Member D1', color: GREEN, y: 464 },
    { label: 'Member A2', color: CYAN, y: 482, dashed: true },
    { label: 'Member B2', color: ORANGE, y: 495.5, dashed: true },
    { label: 'Member D2', color: LGREEN, y: 509, dashed: true },
  ], 474, 1154, 1175, 11, 15, 8);
  legendBox(505, 962, 123, 86, [
    { label: 'Member A1 1.77%', color: BLUE, y: 970 },
    { label: 'Member B1 2.12%', color: RED, y: 983 },
    { label: 'Member D1 2.72%', color: GREEN, y: 996 },
    { label: 'Member A2 0.77%', color: CYAN, y: 1012, dashed: true },
    { label: 'Member B2 1.12%', color: ORANGE, y: 1025.5, dashed: true },
    { label: 'Member D2 1.72%', color: LGREEN, y: 1039, dashed: true },
  ], 1004, 510, 531, 11, 15, 8);
  legendBox(1146, 951, 104, 111, GEOM_LABELS.map((l, i) => ({ label: l, color: GEOM_COLORS[i], y: 957 + i * 9.4, dashed: i > 0 })), null, 1151, 1176, 7.8, 15, 6);

  return { animation: false, backgroundColor: '#ffffff', grid, xAxis, yAxis, series, graphic };
}

export default function App() {
  const ref = useRef<HTMLDivElement>(null);
  useEffect(() => {
    const chart = echarts.init(ref.current as HTMLDivElement, null, { renderer: 'svg', width: W, height: H });
    chart.setOption(buildOption() as any);
    return () => chart.dispose();
  }, []);
  return <div ref={ref} style={{ position: 'absolute', left: 0, top: 0, width: W, height: H, background: '#fff' }} />;
}
